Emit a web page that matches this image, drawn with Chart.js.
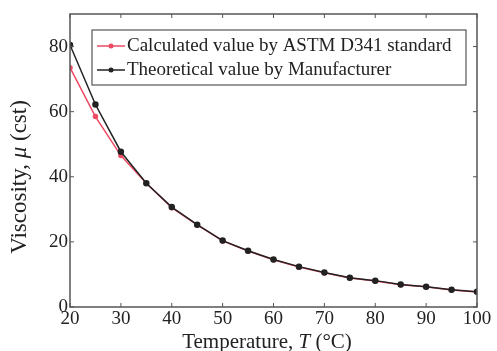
<!DOCTYPE html>
<html lang="en">
<head>
    <meta charset="UTF-8">
    <title>Viscosity vs Temperature</title>
    <script src="https://cdn.jsdelivr.net/npm/chart.js"></script>
    <style>
        body { margin: 0; background: #fff; }
        #wrap { width: 497px; height: 351px; }
    </style>
</head>
<body>
    <div id="wrap"><canvas id="viscChart"></canvas></div>

    <script>
    // temperature steps (°C)
    const temps = [20, 25, 30, 35, 40, 45, 50, 55, 60, 65, 70, 75, 80, 85, 90, 95, 100];
    // kinematic viscosity (cst)
    const calculated = [73.5, 58.5, 46.5, 38, 30.5, 25.2, 20.3, 17.2, 14.5, 12.3, 10.5, 8.9, 8.0, 6.8, 6.2, 5.2, 4.6];
    const theoretical = [80.5, 62.2, 47.7, 38, 30.7, 25.3, 20.4, 17.3, 14.6, 12.4, 10.6, 9.0, 8.1, 6.9, 6.2, 5.3, 4.7];
    const xTicks = [20, 30, 40, 50, 60, 70, 80, 90, 100];
    const yTicks = [0, 20, 40, 60, 80];

    const serif = '"Liberation Serif", "Times New Roman", serif';
    const fontPx = 19;

    // box around the plot with inward tick marks on every side
    const framePlugin = {
        id: 'frame',
        afterDatasetsDraw(chart) {
            const { ctx, chartArea: a, scales } = chart;
            ctx.save();
            ctx.strokeStyle = '#555';
            ctx.lineWidth = 1.5;
            ctx.strokeRect(a.left, a.top, a.right - a.left, a.bottom - a.top);
            ctx.lineWidth = 1;
            ctx.beginPath();
            xTicks.forEach(v => {
                const x = scales.x.getPixelForValue(v);
                ctx.moveTo(x, a.bottom); ctx.lineTo(x, a.bottom - 4);
                ctx.moveTo(x, a.top); ctx.lineTo(x, a.top + 4);
            });
            yTicks.forEach(v => {
                const y = scales.y.getPixelForValue(v);
                ctx.moveTo(a.left, y); ctx.lineTo(a.left + 4, y);
                ctx.moveTo(a.right, y); ctx.lineTo(a.right - 4, y);
            });
            ctx.stroke();
            ctx.restore();
        }
    };

    // legend box in the upper part of the plot
    const legendPlugin = {
        id: 'boxLegend',
        afterDraw(chart) {
            const { ctx, chartArea: a } = chart;
            const bx = a.left + 22, by = a.top + 16, bw = 374, bh = 55;
            ctx.save();
            ctx.fillStyle = '#fff';
            ctx.fillRect(bx, by, bw, bh);
            ctx.strokeStyle = '#555';
            ctx.lineWidth = 1.2;
            ctx.strokeRect(bx, by, bw, bh);
            ctx.font = fontPx + 'px ' + serif;
            ctx.textBaseline = 'middle';
            chart.data.datasets.forEach((ds, i) => {
                const y = by + 16 + i * 24;
                ctx.strokeStyle = ds.borderColor;
                ctx.lineWidth = 1.5;
                ctx.beginPath();
                ctx.moveTo(bx + 5, y); ctx.lineTo(bx + 33, y);
                ctx.stroke();
                ctx.fillStyle = ds.pointBackgroundColor;
                ctx.beginPath();
                ctx.arc(bx + 19, y, 2.5, 0, Math.PI * 2);
                ctx.fill();
                ctx.fillStyle = '#222';
                ctx.fillText(ds.label, bx + 35, y);
            });
            ctx.restore();
        }
    };

    // axis titles with italic symbols
    const titlePlugin = {
        id: 'axisTitles',
        afterDraw(chart) {
            const { ctx } = chart;
            const drawParts = (parts, size, cx, cy, rot) => {
                ctx.save();
                ctx.translate(cx, cy);
                ctx.rotate(rot);
                ctx.textBaseline = 'middle';
                ctx.fillStyle = '#222';
                const fontOf = p => (p[1] ? 'italic ' : '') + size + 'px ' + serif;
                let total = 0;
                parts.forEach(p => {
                    ctx.font = fontOf(p);
                    total += ctx.measureText(p[0]).width;
                });
                let x = -total / 2;
                parts.forEach(p => {
                    ctx.font = fontOf(p);
                    ctx.fillText(p[0], x, 0);
                    x += ctx.measureText(p[0]).width;
                });
                ctx.restore();
            };
            drawParts([['Temperature, ', false], ['T', true], [' (°C)', false]], 21, 267, 342, 0);
            drawParts([['Viscosity, ', false], ['μ', true], [' (cst)', false]], 23, 20, 177, -Math.PI / 2);
        }
    };

    const ctx = document.getElementById('viscChart').getContext('2d');
    new Chart(ctx, {
        type: 'line',
        data: {
            labels: temps,
            datasets: [{
                label: 'Calculated value by ASTM D341 standard',
                data: calculated,
                borderColor: '#ee4a63',
                pointBackgroundColor: '#ee4a63',
                pointBorderColor: '#ee4a63',
                borderWidth: 1.5,
                pointRadius: 2,
                tension: 0,
                order: 2
            }, {
                label: 'Theoretical value by Manufacturer',
                data: theoretical,
                borderColor: '#222',
                pointBackgroundColor: '#222',
                pointBorderColor: '#222',
                borderWidth: 1.5,
                pointRadius: 2.5,
                tension: 0,
                order: 1
            }]
        },
        options: {
            responsive: true,
            maintainAspectRatio: false,
            animation: false,
            layout: { padding: { top: 14, right: 20 } },
            plugins: {
                legend: { display: false },
                tooltip: { enabled: false }
            },
            scales: {
                x: {
                    type: 'linear',
                    min: 20,
                    max: 100,
                    afterFit: s => { s.height = 44; },
                    afterBuildTicks: s => { s.ticks = xTicks.map(v => ({ value: v })); },
                    grid: { display: false, drawTicks: false },
                    border: { display: false },
                    ticks: { padding: 1, color: '#222', font: { family: serif, size: fontPx }, maxRotation: 0 }
                },
                y: {
                    min: 0,
                    max: 90,
                    afterFit: s => { s.width = 70; },
                    afterBuildTicks: s => { s.ticks = yTicks.map(v => ({ value: v })); },
                    grid: { display: false, drawTicks: false },
                    border: { display: false },
                    ticks: { padding: 2, color: '#222', font: { family: serif, size: fontPx } }
                }
            }
        },
        plugins: [framePlugin, legendPlugin, titlePlugin]
    });
    </script>
</body>
</html>
